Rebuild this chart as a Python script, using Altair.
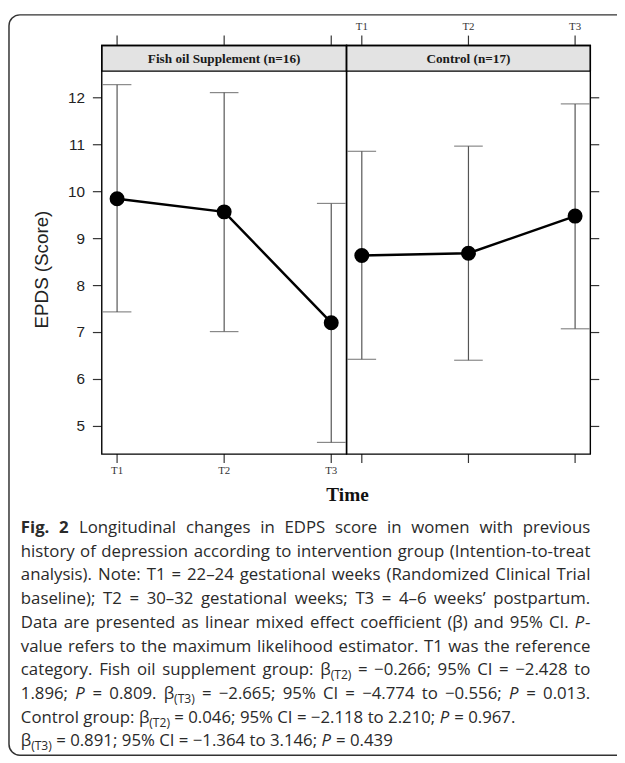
import altair as alt
import pandas as pd

# ---------------- data ----------------
times = ["T1", "T2", "T3"]
groups = ["Fish oil Supplement (n=16)", "Control (n=17)"]
fish_mean = [9.85, 9.57, 7.21]
fish_lower = [7.44, 7.02, 4.66]
fish_upper = [12.28, 12.11, 9.75]
ctrl_mean = [8.64, 8.69, 9.48]
ctrl_lower = [6.43, 6.41, 7.08]
ctrl_upper = [10.86, 10.97, 11.87]
y_ticks = [5, 6, 7, 8, 9, 10, 11, 12]
y_title = "EPDS (Score)"
x_title = "Time"

caption = [
    [("Fig. 2", "b"), (" Longitudinal changes in EDPS score in women with previous", "r")],
    [("history of depression according to intervention group (Intention-to-treat", "r")],
    [("analysis). Note: T1 = 22\u201324 gestational weeks (Randomized Clinical Trial", "r")],
    [("baseline); T2 = 30\u201332 gestational weeks; T3 = 4\u20136 weeks\u2019 postpartum.", "r")],
    [("Data are presented as linear mixed effect coefficient (\u03b2) and 95% CI. ", "r"), ("P", "i"), ("-", "r")],
    [("value refers to the maximum likelihood estimator. T1 was the reference", "r")],
    [("category. Fish oil supplement group: \u03b2", "r"), ("(T2)", "s"), (" = \u22120.266; 95% CI = \u22122.428 to", "r")],
    [("1.896; ", "r"), ("P", "i"), (" = 0.809. \u03b2", "r"), ("(T3)", "s"),
     (" = \u22122.665; 95% CI = \u22124.774 to \u22120.556; ", "r"), ("P", "i"), (" = 0.013.", "r")],
    [("Control group: \u03b2", "r"), ("(T2)", "s"), (" = 0.046; 95% CI = \u22122.118 to 2.210; ", "r"),
     ("P", "i"), (" = 0.967.", "r")],
    [("\u03b2", "r"), ("(T3)", "s"), (" = 0.891; 95% CI = \u22121.364 to 3.146; ", "r"), ("P", "i"), (" = 0.439", "r")],
]
justified_lines = 8

# ---------------- layout (view coords = page - 8) ----------------
W, H = 617, 755
STRIP_TOP, STRIP_BOTTOM, PANEL_BOTTOM = 33, 59, 447
RANGES = [(95, 343), (343, 590)]
Y_DOMAIN = [4.411, 12.5676]
PAD = 0.143
TICK_COLOR = "#333333"
LABEL_COLOR = "#333333"


def panel(i, means, lows, highs):
    rng = RANGES[i]
    left = i == 0
    df = pd.DataFrame({"time": times, "mean": means, "lower": lows, "upper": highs})
    tdf = pd.DataFrame({"time": times})
    ydf = pd.DataFrame({"v": y_ticks})
    xs = alt.Scale(type="point", domain=times, range=list(rng), padding=PAD)
    ys = alt.Scale(domain=Y_DOMAIN, range=[PANEL_BOTTOM, STRIP_BOTTOM], zero=False, nice=False)
    X = alt.X("time:O", scale=xs, axis=None)

    sdf = pd.DataFrame({"label": [groups[i]]})
    strip = alt.Chart(sdf).mark_rect(fill="#e3e3e3", stroke="black", strokeWidth=1.4).encode(
        x=alt.value(rng[0]), x2=alt.value(rng[1]), y=alt.value(STRIP_TOP), y2=alt.value(STRIP_BOTTOM))
    strip_text = alt.Chart(sdf).mark_text(font="Liberation Serif", fontWeight="bold", fontSize=13.4,
                                          color="#1a1a1a", baseline="middle").encode(
        x=alt.value((rng[0] + rng[1]) / 2), y=alt.value((STRIP_TOP + STRIP_BOTTOM) / 2 + 0.5), text="label:N")
    border = alt.Chart(sdf).mark_rect(fillOpacity=0, stroke="black", strokeWidth=1.4).encode(
        x=alt.value(rng[0]), x2=alt.value(rng[1]), y=alt.value(STRIP_TOP), y2=alt.value(PANEL_BOTTOM))

    # tick marks (drawn through the panel scales)
    tk = dict(color=TICK_COLOR, strokeWidth=1.2)
    xt_bottom = alt.Chart(tdf).mark_rule(**tk).encode(
        x=X, y=alt.value(PANEL_BOTTOM), y2=alt.value(PANEL_BOTTOM + 9))
    xt_top = alt.Chart(tdf).mark_rule(**tk).encode(
        x=X, y=alt.value(STRIP_TOP - 10), y2=alt.value(STRIP_TOP))
    tlab = dict(font="Liberation Serif", fontSize=11, color=LABEL_COLOR, baseline="middle", align="center")
    if left:
        xl = alt.Chart(tdf).mark_text(**tlab).encode(x=X, y=alt.value(PANEL_BOTTOM + 17), text="time:N")
        yt = alt.Chart(ydf).mark_rule(**tk).encode(
            x=alt.value(rng[0] - 9), x2=alt.value(rng[0]), y=alt.Y("v:Q", scale=ys, axis=None))
        yl = alt.Chart(ydf).mark_text(font="Liberation Sans", fontSize=15.5, color="#222222",
                                      align="right", baseline="middle").encode(
            x=alt.value(rng[0] - 17), y=alt.Y("v:Q", scale=ys, axis=None), text="v:Q")
        guides = [xt_bottom, xt_top, xl, yt, yl]
    else:
        xl = alt.Chart(tdf).mark_text(**tlab).encode(x=X, y=alt.value(STRIP_TOP - 19), text="time:N")
        yt = alt.Chart(ydf).mark_rule(**tk).encode(
            x=alt.value(rng[1]), x2=alt.value(rng[1] + 9), y=alt.Y("v:Q", scale=ys, axis=None))
        guides = [xt_bottom, xt_top, xl, yt]

    base = alt.Chart(df)
    bars = base.mark_rule(color="#555555", strokeWidth=1.2).encode(
        x=X, y=alt.Y("lower:Q", scale=ys, axis=None), y2="upper:Q")
    caps = base.transform_fold(["lower", "upper"], as_=["end", "val"]).mark_tick(
        orient="horizontal", size=29, thickness=1.2, color="#555555").encode(
        x=X, y=alt.Y("val:Q", scale=ys, axis=None))
    line = base.mark_line(color="black", strokeWidth=2.5).encode(
        x=X, y=alt.Y("mean:Q", scale=ys, axis=None))
    pts = base.mark_circle(size=230, color="black", opacity=1).encode(
        x=X, y=alt.Y("mean:Q", scale=ys, axis=None))
    return alt.layer(strip, *guides, bars, caps, line, pts, border, strip_text)


# ---------------- caption layout ----------------
CW = {' ': 532, '!': 547, '(': 606, ')': 606, ',': 502, '-': 659, '.': 545, ':': 545, ';': 545,
      '=': 1171, '%': 1686, '\u2013': 1024, '\u2212': 1171, '\u2019': 348, '\u03b2': 1260}
for ch in "0123456789":
    CW[ch] = 1171
CW.update({'A': 1296, 'B': 1327, 'C': 1292, 'D': 1493, 'E': 1139, 'F': 1057, 'G': 1491, 'H': 1511,
           'I': 571, 'J': 547, 'K': 1257, 'L': 1073, 'M': 1849, 'N': 1544, 'O': 1595, 'P': 1233,
           'Q': 1595, 'R': 1266, 'S': 1104, 'T': 1120, 'U': 1511, 'V': 1219, 'W': 1895, 'X': 1196,
           'Y': 1155, 'Z': 1150,
           'a': 1139, 'b': 1255, 'c': 975, 'd': 1255, 'e': 1149, 'f': 694, 'g': 1122, 'h': 1257,
           'i': 518, 'j': 518, 'k': 1075, 'l': 518, 'm': 1905, 'n': 1257, 'o': 1237, 'p': 1255,
           'q': 1255, 'r': 836, 's': 977, 't': 723, 'u': 1257, 'v': 1026, 'w': 1593, 'x': 1073,
           'y': 1028, 'z': 977})
SUB = 0.72


def text_w(s, style, size):
    f = 1.07 if style == "b" else 1.0
    sz = size * SUB if style == "s" else size
    return sum(CW.get(c, 1100) for c in s) / 2048 * sz * f


def split_words(runs):
    words = [[]]
    for text, style in runs:
        parts = text.split(" ")
        for k, part in enumerate(parts):
            if k > 0:
                words.append([])
            if part:
                words[-1].append((part, style))
    return [w for w in words if w]


CAP_X0, CAP_X1 = 13, 590
BASE0, LEAD = 527, 24
nat = []
for li in range(justified_lines):
    ws = split_words(caption[li])
    nat.append(sum(text_w(p, st, 1) for w in ws for p, st in w) + (len(ws) - 1) * CW[' '] / 2048)
CAP_SIZE = min(17.0, (CAP_X1 - CAP_X0) / max(nat))

rows = []
for li, runs in enumerate(caption):
    ws = split_words(runs)
    wwid = [sum(text_w(p, st, CAP_SIZE) for p, st in w) for w in ws]
    if li < justified_lines and len(ws) > 1:
        gap = (CAP_X1 - CAP_X0 - sum(wwid)) / (len(ws) - 1)
    else:
        gap = CW[' '] / 2048 * CAP_SIZE
    x = CAP_X0
    base_y = BASE0 + LEAD * li
    for w, ww in zip(ws, wwid):
        px = x
        for p, st in w:
            rows.append({"x": px, "y": base_y + (4 if st == "s" else 0), "text": p, "style": st})
            px += text_w(p, st, CAP_SIZE)
        x += ww + gap
cap_df = pd.DataFrame(rows)


def cap_layer(style, **kw):
    return alt.Chart(cap_df).transform_filter(alt.datum.style == style).mark_text(
        align="left", baseline="alphabetic", font="Open Sans", color="#2a2a2a", **kw).encode(
        x=alt.X("x:Q", scale=None), y=alt.Y("y:Q", scale=None), text="text:N")


cap_r = cap_layer("r", fontSize=CAP_SIZE)
cap_b = cap_layer("b", fontSize=CAP_SIZE, fontWeight="bold")
cap_i = cap_layer("i", fontSize=CAP_SIZE, fontStyle="italic")
cap_s = cap_layer("s", fontSize=CAP_SIZE * SUB)

one = pd.DataFrame({"t": [y_title], "u": [x_title]})
frame = alt.Chart(one).mark_rect(fillOpacity=0, stroke="#333333", strokeWidth=1.5,
                                 cornerRadiusTopLeft=11, cornerRadiusBottomLeft=11).encode(
    x=alt.value(1), x2=alt.value(W + 40), y=alt.value(2), y2=alt.value(752))
ylab = alt.Chart(one).mark_text(font="Liberation Sans", fontSize=19, angle=270, color="#222222",
                                baseline="middle", align="center").encode(
    x=alt.value(35), y=alt.value(260), text="t:N")
xlab = alt.Chart(one).mark_text(font="Liberation Serif", fontSize=19.5, fontWeight="bold", color="#111111",
                                baseline="middle", align="center").encode(
    x=alt.value(344), y=alt.value(489), text="u:N")

chart = alt.layer(
    frame,
    panel(0, fish_mean, fish_lower, fish_upper),
    panel(1, ctrl_mean, ctrl_lower, ctrl_upper),
    ylab, xlab, cap_r, cap_b, cap_i, cap_s,
).resolve_scale(x="independent", y="independent").properties(
    width=W, height=H, autosize=alt.AutoSizeParams(type="none"), padding=0,
).configure_view(stroke="transparent")

chart.save("out.html", embed_options={"renderer": "svg", "actions": False})
